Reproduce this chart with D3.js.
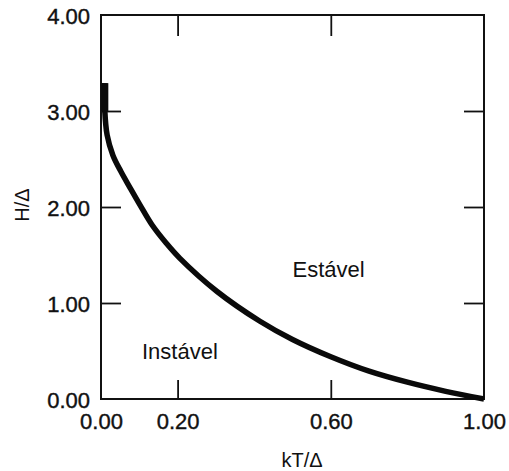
<!DOCTYPE html>
<html lang="pt">
<head>
    <meta charset="UTF-8">
    <title>H/Δ vs kT/Δ</title>
    <script src="https://cdn.jsdelivr.net/npm/d3@7"></script>
</head>
<body>
<style>
    body {
        margin: 0;
        background-color: white;
    }
    svg text {
        font-family: "Liberation Sans", Arial, sans-serif;
        fill: #111;
    }
    .axis text {
        font-size: 22px;
        stroke: #111;
        stroke-width: 0.4px;
    }
    .axis line {
        stroke: #111;
        stroke-width: 1.8px;
    }
    .axis path {
        display: none;
    }
    .frame {
        fill: none;
        stroke: #111;
        stroke-width: 2px;
    }
    .curve {
        fill: none;
        stroke: #0a0a0a;
        stroke-width: 5.5px;
        stroke-linecap: butt;
    }
    .region {
        font-size: 22px;
    }
    .title {
        font-size: 20px;
    }
</style>

<svg width="509" height="471"></svg>

<script>
    // dados
    var kT = [0.010, 0.010, 0.016, 0.031, 0.052, 0.076, 0.102, 0.133, 0.170, 0.206, 0.303, 0.415, 0.50, 0.60, 0.70, 0.80, 0.90, 1.00];
    var H = [3.29, 3.00, 2.75, 2.54, 2.37, 2.20, 2.02, 1.815, 1.625, 1.465, 1.12, 0.81, 0.62, 0.44, 0.29, 0.175, 0.08, 0.00];

    var xTickLabels = [0, 0.2, 0.6, 1.0];
    var yTickLabels = [0, 1, 2, 3, 4];
    var innerXTicks = [0.2, 0.6];
    var innerYTicks = [1, 2, 3];

    var regions = [
        {name: "Estável", kT: 0.50, H: 1.27},
        {name: "Instável", kT: 0.107, H: 0.42}
    ];

    var svg = d3.select("svg");
    var plotLeft = 101, plotRight = 484, plotTop = 15, plotBottom = 399;

    var getX = d3.scaleLinear().domain([0, 1]).range([plotLeft, plotRight]);
    var getY = d3.scaleLinear().domain([0, 4]).range([plotBottom, plotTop]);

    // ticks para dentro, nos quatro lados
    svg.append("g")
        .attr("class", "axis")
        .attr("transform", "translate(0," + plotBottom + ")")
        .call(d3.axisBottom(getX).tickValues(innerXTicks).tickSizeInner(-19).tickSizeOuter(0).tickFormat(""));
    svg.append("g")
        .attr("class", "axis")
        .attr("transform", "translate(0," + plotTop + ")")
        .call(d3.axisTop(getX).tickValues(innerXTicks).tickSizeInner(-21).tickSizeOuter(0).tickFormat(""));
    svg.append("g")
        .attr("class", "axis")
        .attr("transform", "translate(" + plotLeft + ",0)")
        .call(d3.axisLeft(getY).tickValues(innerYTicks).tickSizeInner(-20).tickSizeOuter(0).tickFormat(""));
    svg.append("g")
        .attr("class", "axis")
        .attr("transform", "translate(" + plotRight + ",0)")
        .call(d3.axisRight(getY).tickValues(innerYTicks).tickSizeInner(-20).tickSizeOuter(0).tickFormat(""));

    // rótulos
    var xLab = svg.append("g")
        .attr("class", "axis")
        .attr("transform", "translate(0," + plotBottom + ")")
        .call(d3.axisBottom(getX).tickValues(xTickLabels).tickSize(0).tickPadding(14).tickFormat(d3.format(".2f")));
    xLab.selectAll("text").attr("dy", "0.71em");
    svg.append("g")
        .attr("class", "axis")
        .attr("transform", "translate(" + (plotLeft - 11) + ",0)")
        .call(d3.axisLeft(getY).tickValues(yTickLabels).tickSize(0).tickPadding(0).tickFormat(d3.format(".2f")))
        .selectAll("text").attr("dy", "0.4em");

    svg.append("rect")
        .attr("class", "frame")
        .attr("x", plotLeft)
        .attr("y", plotTop)
        .attr("width", plotRight - plotLeft)
        .attr("height", plotBottom - plotTop);

    var pts = kT.map(function (d, i) {
        return [d, H[i]];
    });
    var line = d3.line()
        .x(function (d) { return getX(d[0]); })
        .y(function (d) { return getY(d[1]); })
        .curve(d3.curveCatmullRom.alpha(0.5));
    svg.append("path")
        .attr("class", "curve")
        .attr("d", line(pts));
    // trecho inicial mais grosso
    svg.append("path")
        .attr("class", "curve")
        .style("stroke-width", "7px")
        .attr("d", line(pts.slice(0, 2)));

    svg.selectAll(".region")
        .data(regions)
        .enter()
        .append("text")
        .attr("class", "region")
        .attr("x", function (d) { return getX(d.kT); })
        .attr("y", function (d) { return getY(d.H); })
        .text(function (d) { return d.name; });

    svg.append("text")
        .attr("class", "title")
        .attr("x", 302)
        .attr("y", 467)
        .attr("text-anchor", "middle")
        .text("kT/Δ");
    svg.append("text")
        .attr("class", "title")
        .attr("transform", "translate(29,205) rotate(-90)")
        .attr("text-anchor", "middle")
        .text("H/Δ");
</script>
</body>
</html>
